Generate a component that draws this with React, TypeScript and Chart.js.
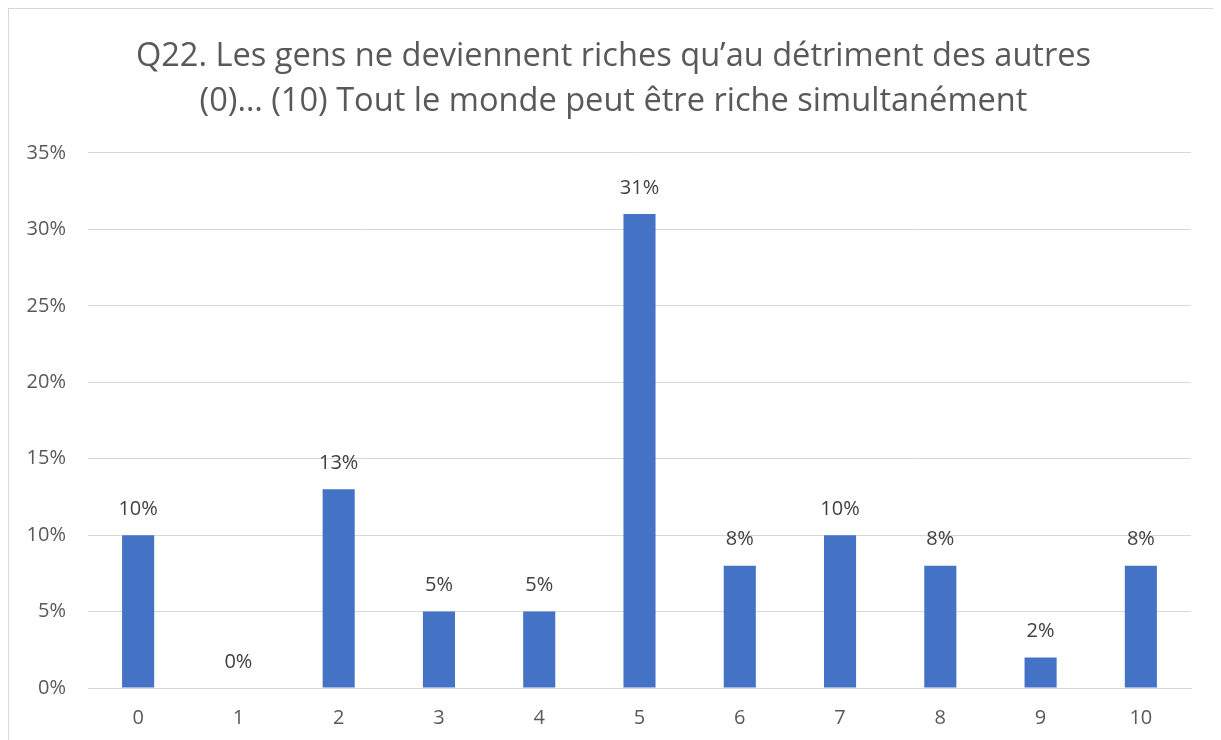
import React, { useEffect, useRef } from "react";
import { Chart, registerables } from "chart.js";

Chart.register(...registerables);

const categories = ["0", "1", "2", "3", "4", "5", "6", "7", "8", "9", "10"];
const values = [10, 0, 13, 5, 5, 31, 8, 10, 8, 2, 8];
const titleLines = [
  "Q22. Les gens ne deviennent riches qu\u2019au détriment des autres",
  "(0)\u2026 (10) Tout le monde peut être riche simultanément",
];
const FONT = "'Open Sans', 'DejaVu Sans', sans-serif";
const TITLE_SIZE = 32.6;
const TITLE_LH = 1.38;

const labelPlugin = {
  id: "barLabels",
  afterDatasetsDraw(chart: any) {
    const ctx = chart.ctx;
    const meta = chart.getDatasetMeta(0);
    ctx.save();
    ctx.font = `20px ${FONT}`;
    ctx.fillStyle = "#404040";
    ctx.textAlign = "center";
    ctx.textBaseline = "middle";
    meta.data.forEach((bar: any, i: number) => {
      ctx.fillText(values[i] + "%", bar.x, bar.y - 26);
    });
    ctx.restore();
  },
};

const centeredTitlePlugin = {
  id: "centeredTitle",
  afterDraw(chart: any) {
    const ctx = chart.ctx;
    const tb = chart.titleBlock;
    if (!tb) return;
    const lh = TITLE_SIZE * TITLE_LH;
    ctx.save();
    ctx.font = `${TITLE_SIZE}px ${FONT}`;
    ctx.fillStyle = "#595959";
    ctx.textAlign = "center";
    ctx.textBaseline = "middle";
    titleLines.forEach((line, i) => {
      ctx.fillText(line, chart.width / 2, tb.top + lh * (i + 0.5));
    });
    ctx.restore();
  },
};

export default function App() {
  const ref = useRef<HTMLCanvasElement>(null);
  useEffect(() => {
    if (!ref.current) return;
    const chart = new Chart(ref.current, {
      type: "bar",
      data: {
        labels: categories,
        datasets: [
          {
            data: values,
            backgroundColor: "#4472c4",
            barPercentage: 0.64,
            categoryPercentage: 0.5,
          },
        ],
      },
      options: {
        animation: false,
        responsive: true,
        maintainAspectRatio: false,
        layout: { padding: { top: 25, right: 27, bottom: 11, left: 0 } },
        plugins: {
          legend: { display: false },
          tooltip: { enabled: false },
          title: {
            display: true,
            text: titleLines,
            color: "rgba(0,0,0,0)",
            font: { family: FONT, size: TITLE_SIZE, weight: "normal", lineHeight: TITLE_LH },
            padding: { top: 0, bottom: 29 },
          },
        },
        scales: {
          x: {
            grid: { display: false, drawTicks: false },
            border: { color: "#d9d9d9", width: 1 },
            ticks: { color: "#595959", font: { family: FONT, size: 20 }, padding: 18 },
          },
          y: {
            min: 0,
            max: 35,
            grid: { color: "#d9d9d9", drawTicks: false },
            border: { display: false },
            ticks: {
              stepSize: 5,
              color: "#595959",
              font: { family: FONT, size: 20 },
              padding: 22,
              callback: (v: any) => v + "%",
            },
            afterFit: (s: any) => {
              s.width = 79;
            },
          },
        },
      },
      plugins: [labelPlugin, centeredTitlePlugin],
    });
    return () => chart.destroy();
  }, []);
  return (
    <div
      style={{
        width: 1209,
        height: 750,
        border: "1px solid #d9d9d9",
        position: "relative",
        background: "#fff",
      }}
    >
      <canvas ref={ref} />
    </div>
  );
}
